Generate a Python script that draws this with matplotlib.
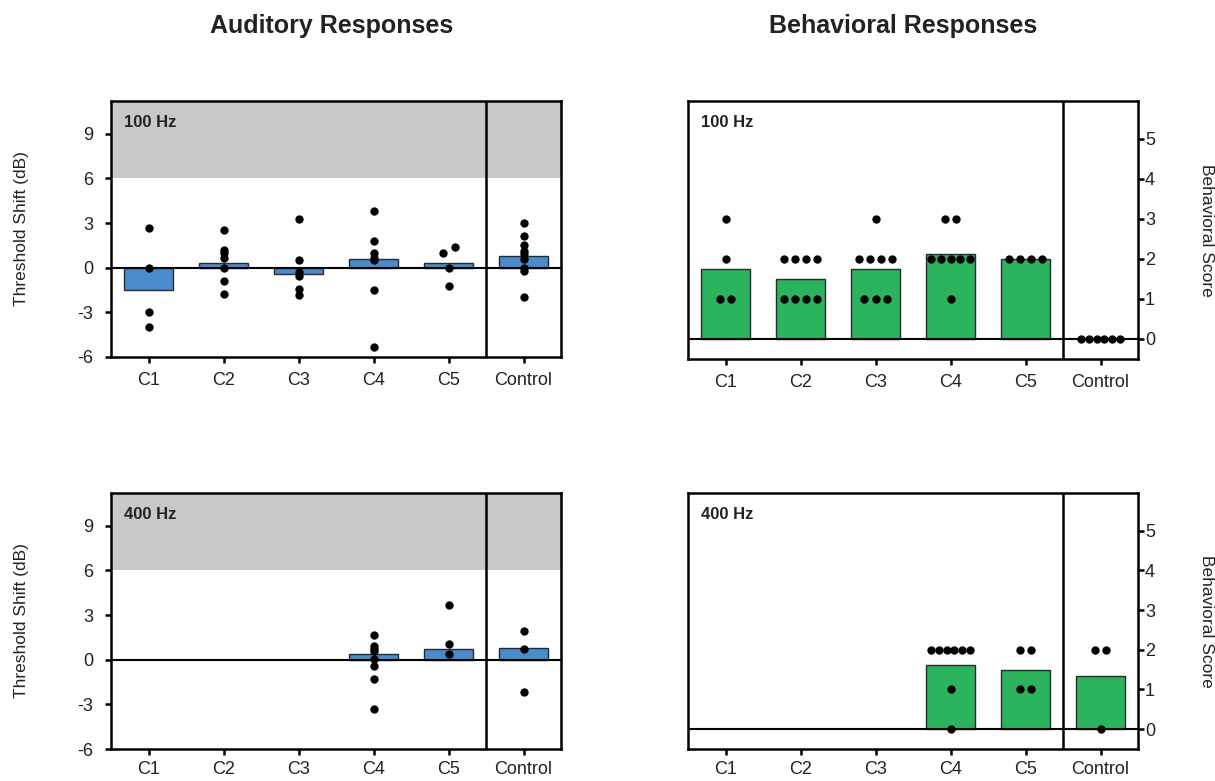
import numpy as np
import matplotlib
matplotlib.use("Agg")
import matplotlib.pyplot as plt

plt.rcParams["font.family"] = ["Liberation Sans", "DejaVu Sans"]
plt.rcParams["axes.unicode_minus"] = False

groups = ["C1", "C2", "C3", "C4", "C5", "Control"]

# threshold shift (dB), bar = group value, points = individual animals
shift_100_bars = [-1.5, 0.3, -0.4, 0.6, 0.3, 0.8]
shift_100_pts = [
    [2.7, 0.0, -3.0, -4.0],
    [2.5, 1.2, 1.0, 0.65, 0.0, -0.9, -1.75],
    [3.3, 0.55, -0.3, -0.55, -1.45, -1.85],
    [3.8, 1.8, 1.0, 0.65, 0.5, -1.5, -5.3],
    [1.4, 1.0, 0.0, -1.2],
    [3.0, 2.1, 1.5, 1.1, 0.9, 0.6, 0.0, -0.2, -2.0],
]
shift_400_bars = [np.nan, np.nan, np.nan, 0.37, 0.72, 0.8]
shift_400_pts = [
    [],
    [],
    [],
    [1.65, 0.9, 0.75, 0.6, 0.05, -0.45, -1.3, -3.3],
    [3.7, 1.05, 0.35],
    [1.95, 0.75, -2.2],
]

# behavioral scores per animal; bars show the group mean
score_100 = [
    [3, 2, 1, 1],
    [2, 2, 2, 2, 1, 1, 1, 1],
    [3, 2, 2, 2, 2, 1, 1, 1],
    [3, 3, 2, 2, 2, 2, 2, 1],
    [2, 2, 2, 2],
    [0, 0, 0, 0, 0, 0],
]
score_400 = [
    [],
    [],
    [],
    [2, 2, 2, 2, 2, 2, 1, 0],
    [2, 2, 1, 1],
    [2, 2, 0],
]

BLUE = "#4a8bcb"
GREEN = "#2bb35e"
TXT = "#222222"
LW = 1.8
DOT = 36


def frame(ax, label, xpad):
    for s in ax.spines.values():
        s.set_linewidth(LW)
    ax.set_xlim(-0.5, 5.5)
    ax.set_xticks(range(len(groups)))
    ax.set_xticklabels(groups)
    ax.tick_params(width=LW, length=4, labelsize=13, labelcolor=TXT)
    ax.tick_params(axis="x", pad=xpad)
    ax.axvline(4.5, color="black", lw=LW, zorder=5)
    ax.axhline(0, color="black", lw=1.5, zorder=3)
    ax.text(0.029, 0.9, label, transform=ax.transAxes, fontsize=12,
            fontweight="bold", color=TXT, va="baseline", zorder=6)


def auditory(ax, bars, pts, label, xpad, nudges=None):
    nudges = nudges or {}
    ax.axhspan(6, 11.2, color="#c8c8c8", lw=0, zorder=0)
    for i, h in enumerate(bars):
        if np.isnan(h):
            continue
        ax.bar(i, h, width=0.65, color=BLUE, edgecolor="#2a2a2a", lw=1, zorder=2)
    for i, vals in enumerate(pts):
        off = nudges.get(i, [0] * len(vals))
        ax.scatter(i + np.array(off, dtype=float), vals, s=DOT, color="black",
                   lw=0, zorder=4)
    ax.set_ylim(-6, 11.2)
    ax.set_yticks([-6, -3, 0, 3, 6, 9])
    ax.tick_params(axis="y", pad=9)
    frame(ax, label, xpad)
    ax.text(-0.198, 0.5, "Threshold Shift (dB)", transform=ax.transAxes,
            rotation=90, ha="center", va="center", fontsize=12.5, color=TXT)


def behavioral(ax, scores, label, xpad):
    for i, vals in enumerate(scores):
        if not vals:
            continue
        ax.bar(i, np.mean(vals), width=0.65, color=GREEN, edgecolor="#2a2a2a",
               lw=1, zorder=2)
        for v in sorted(set(vals)):
            n = vals.count(v)
            step = 0.15 if n <= 4 else 0.53 / (n - 1)
            xs = i + (np.arange(n) - (n - 1) / 2) * step
            ax.scatter(xs, [v] * n, s=DOT, color="black", lw=0, zorder=4,
                       clip_on=False)
    ax.set_ylim(-0.5, 5.95)
    ax.set_yticks(range(6))
    ax.yaxis.tick_right()
    ax.tick_params(axis="y", pad=1)
    frame(ax, label, xpad)
    ax.text(1.153, 0.5, "Behavioral Score", transform=ax.transAxes,
            rotation=270, ha="center", va="center", fontsize=12.5, color=TXT)


fig = plt.figure(figsize=(12.15, 7.81), dpi=100)
W, H = 1215, 781


def rect(left, top, right, bottom):
    return [left / W, 1 - bottom / H, (right - left) / W, (bottom - top) / H]


ax_tl = fig.add_axes(rect(111, 101, 561, 357))
ax_bl = fig.add_axes(rect(111, 493, 561, 749))
ax_tr = fig.add_axes(rect(688, 101, 1138, 359))
ax_br = fig.add_axes(rect(688, 493, 1138, 749))

auditory(ax_tl, shift_100_bars, shift_100_pts, "100 Hz", 6.5,
         nudges={4: [0.08, -0.08, 0, 0]})
auditory(ax_bl, shift_400_bars, shift_400_pts, "400 Hz", 4.5)
behavioral(ax_tr, score_100, "100 Hz", 6.5)
behavioral(ax_br, score_400, "400 Hz", 4.5)

fig.text(331.5 / W, 1 - 33 / H, "Auditory Responses", ha="center",
         va="baseline", fontsize=18, fontweight="bold", color=TXT)
fig.text(903 / W, 1 - 33 / H, "Behavioral Responses", ha="center",
         va="baseline", fontsize=18, fontweight="bold", color=TXT)

fig.savefig("out.png", dpi=100)
